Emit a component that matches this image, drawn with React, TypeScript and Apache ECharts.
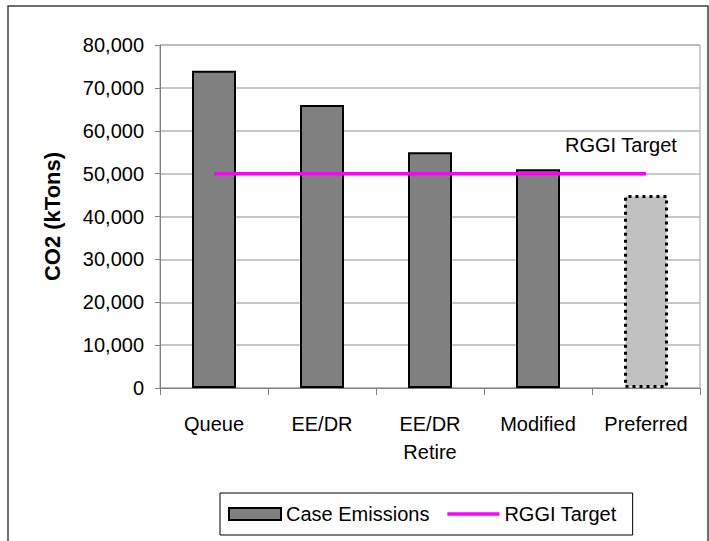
import React, { useEffect, useRef } from "react";
import * as echarts from "echarts";

const categories = ["Queue", "EE/DR", "EE/DR\nRetire", "Modified", "Preferred"];
const caseEmissions = [74000, 66000, 55000, 51000, 45000];
const rggiTarget = [50000, 50000, 50000, 50000, 50000];
const yTicks = { min: 0, max: 80000, interval: 10000 };

const FONT = "Liberation Sans, Arial, sans-serif";

export default function App() {
  const ref = useRef<HTMLDivElement>(null);
  useEffect(() => {
    if (!ref.current) return;
    const chart = echarts.init(ref.current, null, { renderer: "svg" });
    const barData = caseEmissions.map((v, i) =>
      i === caseEmissions.length - 1
        ? {
            value: v,
            itemStyle: {
              color: "#c0c0c0",
              borderColor: "#000",
              borderWidth: 3,
              borderType: [3, 4],
            },
          }
        : v
    );
    chart.setOption({
      animation: false,
      backgroundColor: "#fff",
      textStyle: { fontFamily: FONT },
      grid: {
        left: 160,
        right: 9,
        top: 45,
        bottom: 153,
        show: true,
        borderColor: "#9a9a9a",
        borderWidth: 1,
      },
      legend: {
        left: 220,
        top: 493,
        padding: [11, 16, 11, 8],
        itemGap: 18,
        itemWidth: 52,
        itemHeight: 12,
        borderColor: "#000",
        borderWidth: 1,
        textStyle: { fontSize: 20, color: "#000", fontFamily: FONT },
        data: [
          { name: "Case Emissions", icon: "rect" },
          { name: "RGGI Target", icon: "path://M0,0 L56,0 L56,4 L0,4 Z" },
        ],
      },
      xAxis: {
        type: "category",
        data: categories,
        boundaryGap: true,
        axisLine: { lineStyle: { color: "#808080", width: 1 } },
        axisTick: { show: true, length: 7, lineStyle: { color: "#808080" } },
        axisLabel: {
          interval: 0,
          fontSize: 20,
          lineHeight: 28,
          color: "#000",
          margin: 22,
          fontFamily: FONT,
        },
        splitLine: { show: false },
      },
      yAxis: {
        type: "value",
        min: yTicks.min,
        max: yTicks.max,
        interval: yTicks.interval,
        name: "CO2 (kTons)",
        nameLocation: "middle",
        nameGap: 97,
        nameTextStyle: {
          fontSize: 22,
          fontWeight: "bold",
          color: "#000",
          fontFamily: FONT,
        },
        axisLine: { show: true, lineStyle: { color: "#808080", width: 1 } },
        axisTick: { show: true, length: 5, lineStyle: { color: "#808080" } },
        axisLabel: {
          fontSize: 20,
          color: "#000",
          margin: 16,
          fontFamily: FONT,
          formatter: (v: number) => v.toLocaleString("en-US"),
        },
        splitLine: { show: true, lineStyle: { color: "#b4b4b4", width: 1.5 } },
      },
      series: [
        {
          name: "Case Emissions",
          type: "bar",
          data: barData,
          barWidth: 44,
          itemStyle: { color: "#808080", borderColor: "#000", borderWidth: 2 },
        },
        {
          name: "RGGI Target",
          type: "line",
          data: rggiTarget,
          symbol: "none",
          lineStyle: { color: "#ff00ff", width: 3.5 },
          itemStyle: { color: "#ff00ff" },
          endLabel: {
            show: true,
            formatter: "RGGI Target",
            color: "#000",
            fontSize: 20,
            fontFamily: FONT,
            offset: [-89, -29],
          },
          z: 5,
        },
      ],
      graphic: [
        {
          type: "rect",
          shape: { x: 8, y: 6, width: 700, height: 545 },
          style: { fill: "none", stroke: "#404040", lineWidth: 1.5 },
          silent: true,
        },
      ],
    });
    return () => chart.dispose();
  }, []);
  return (
    <div
      ref={ref}
      style={{ position: "fixed", left: 0, top: 0, width: 709, height: 541 }}
    />
  );
}
